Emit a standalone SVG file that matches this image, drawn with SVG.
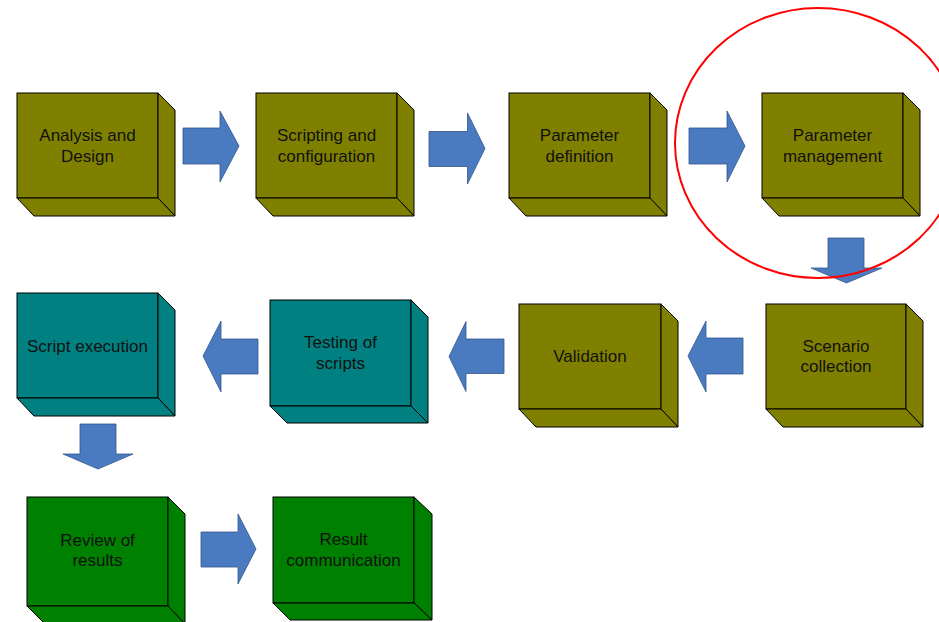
<svg xmlns="http://www.w3.org/2000/svg" width="939" height="622" viewBox="0 0 939 622">
<style>
.face{stroke:#000;stroke-width:1;stroke-linejoin:miter}
.olive{fill:#808000}
.teal{fill:#008080}
.green{fill:#008000}
.arr{fill:#4a7bc1;stroke:#34568a;stroke-width:0.8;stroke-linejoin:miter}
text{font-family:"Liberation Sans",Arial,sans-serif;font-size:17px;fill:#111;text-anchor:middle}
</style>
<rect width="939" height="622" fill="#fff"/>
<g id="connectors">
<polygon class="arr" points="183,128 220,128 220,111 239,146 220,182 220,164 183,164"/>
<polygon class="arr" points="429,131.5 467.5,131.5 467.5,113 485,148.5 467.5,184 467.5,166.5 429,166.5"/>
<polygon class="arr" points="689,128 727,128 727,111 745,146 727,182 727,164 689,164"/>
<polygon class="arr" points="828,238 864,238 864,268 882,268 846.5,283 811,268 828,268"/>
<polygon class="arr" points="743,338 706,338 706,321 688,356 706,392 706,374 743,374"/>
<polygon class="arr" points="504,339 466,339 466,321.5 449,356.5 466,391.5 466,373.5 504,373.5"/>
<polygon class="arr" points="258,339 221,339 221,321 203,356 221,392 221,374 258,374"/>
<polygon class="arr" points="80,424 116,424 116,454 133,454 98,469 63,454 80,454"/>
<polygon class="arr" points="201,532 238,532 238,514 256,549 238,584 238,567 201,567"/>
</g>
<g id="n1">
<rect class="face olive" x="17" y="93" width="141" height="105"/>
<polygon class="face olive" points="158,93 175,110 175,216 158,198"/>
<polygon class="face olive" points="17,198 158,198 175,216 34,216"/>
<text x="87.5" y="141">Analysis and</text><text x="87.5" y="161.5">Design</text>
</g>
<g id="n2">
<rect class="face olive" x="256" y="93" width="141" height="105"/>
<polygon class="face olive" points="397,93 414,110 414,216 397,198"/>
<polygon class="face olive" points="256,198 397,198 414,216 273,216"/>
<text x="326.5" y="141">Scripting and</text><text x="326.5" y="161.5">configuration</text>
</g>
<g id="n3">
<rect class="face olive" x="509" y="93" width="141" height="105"/>
<polygon class="face olive" points="650,93 667,110 667,216 650,198"/>
<polygon class="face olive" points="509,198 650,198 667,216 526,216"/>
<text x="579.5" y="141">Parameter</text><text x="579.5" y="161.5">definition</text>
</g>
<g id="n4">
<rect class="face olive" x="762" y="93" width="141" height="105"/>
<polygon class="face olive" points="903,93 920,110 920,216 903,198"/>
<polygon class="face olive" points="762,198 903,198 920,216 779,216"/>
<text x="832.5" y="141">Parameter</text><text x="832.5" y="161.5">management</text>
</g>
<g id="n5">
<rect class="face olive" x="766" y="304" width="140" height="105"/>
<polygon class="face olive" points="906,304 923,321 923,427 906,409"/>
<polygon class="face olive" points="766,409 906,409 923,427 783,427"/>
<text x="836" y="351.5">Scenario</text><text x="836" y="372">collection</text>
</g>
<g id="n6">
<rect class="face olive" x="519" y="304" width="142" height="105"/>
<polygon class="face olive" points="661,304 678,321 678,427 661,409"/>
<polygon class="face olive" points="519,409 661,409 678,427 536,427"/>
<text x="590" y="362">Validation</text>
</g>
<g id="n7">
<rect class="face teal" x="270" y="300" width="141" height="106"/>
<polygon class="face teal" points="411,300 428,317 428,423 411,406"/>
<polygon class="face teal" points="270,406 411,406 428,423 287,423"/>
<text x="340.5" y="348">Testing of</text><text x="340.5" y="368.5">scripts</text>
</g>
<g id="n8">
<rect class="face teal" x="17" y="293" width="141" height="105"/>
<polygon class="face teal" points="158,293 175,310 175,416 158,398"/>
<polygon class="face teal" points="17,398 158,398 175,416 34,416"/>
<text x="87.5" y="351.5">Script execution</text>
</g>
<g id="n9">
<rect class="face green" x="27" y="497" width="141" height="109"/>
<polygon class="face green" points="168,497 185,514 185,624 168,606"/>
<polygon class="face green" points="27,606 168,606 185,624 45,624"/>
<text x="97.5" y="545.5">Review of</text><text x="97.5" y="566">results</text>
</g>
<g id="n10">
<rect class="face green" x="273" y="497" width="141" height="106"/>
<polygon class="face green" points="414,497 432,514 432,620 414,603"/>
<polygon class="face green" points="273,603 414,603 432,620 290,620"/>
<text x="343.5" y="545">Result</text><text x="343.5" y="565.5">communication</text>
</g>
<ellipse id="highlight" cx="818" cy="143" rx="143" ry="135" fill="none" stroke="#ff0000" stroke-width="2"/>
</svg>
